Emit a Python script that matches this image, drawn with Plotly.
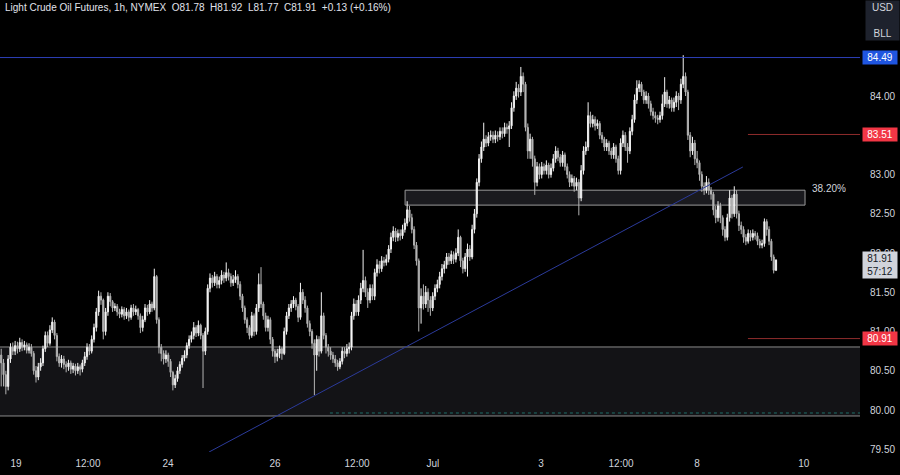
import plotly.graph_objects as go

# ---------------- data ----------------
first_open = 80.70
closes = [
    80.60, 80.45, 80.30, 80.65, 80.80, 80.75, 80.82, 80.78, 80.86, 80.80,
    80.83, 80.76, 80.80, 80.72, 80.50, 80.42, 80.55, 80.60, 80.78, 80.95,
    80.85, 81.02, 81.12, 80.95, 80.68, 80.60, 80.65, 80.58, 80.55, 80.60,
    80.52, 80.56, 80.50, 80.55, 80.52, 80.60, 80.68, 80.80, 80.75, 80.90,
    81.05, 81.25, 81.45, 81.40, 81.00, 81.25, 81.45, 81.38, 81.30, 81.32,
    81.25, 81.22, 81.28, 81.20, 81.25, 81.18, 81.30, 81.25, 81.28, 81.20,
    81.05, 81.15, 81.30, 81.25, 81.35, 81.30, 81.70, 81.15, 80.80, 80.72,
    80.65, 80.70, 80.62, 80.48, 80.32, 80.40, 80.50, 80.58, 80.66, 80.70,
    80.82, 80.90, 80.95, 81.05, 80.98, 81.08, 80.95, 80.75, 81.00, 81.55,
    81.68, 81.62, 81.70, 81.60, 81.65, 81.72, 81.68, 81.75, 81.70, 81.62,
    81.66, 81.70, 81.60, 81.45, 81.30, 81.15, 81.05, 80.95, 81.20, 81.00,
    81.30, 81.60, 81.35, 81.20, 81.05, 81.15, 80.90, 80.75, 80.68, 80.72,
    80.78, 80.72, 81.00, 81.20, 81.30, 81.35, 81.40, 81.32, 81.18, 81.50,
    81.40, 81.30, 81.10, 81.00, 80.85, 80.70, 80.90, 80.75, 81.20, 80.95,
    80.80, 80.75, 80.70, 80.65, 80.60, 80.55, 80.62, 80.75, 80.72, 80.78,
    80.80, 81.20, 81.35, 81.25, 81.40, 81.55, 81.65, 81.50, 81.40, 81.55,
    81.45, 81.75, 81.85, 81.80, 81.90, 81.88, 81.92, 82.05, 82.20, 82.28,
    82.20, 82.25, 82.22, 82.30, 82.38, 82.55, 82.45, 82.30, 82.10, 81.90,
    81.30, 81.45, 81.35, 81.50, 81.40, 81.30, 81.45, 81.55, 81.60, 81.70,
    81.80, 81.85, 81.95, 81.90, 81.98, 81.92, 82.00, 82.20, 81.90, 81.80,
    81.95, 82.05, 81.95, 82.30, 82.50, 82.90, 83.20, 83.35, 83.45, 83.40,
    83.48, 83.50, 83.45, 83.50, 83.48, 83.55, 83.52, 83.60, 83.58, 83.62,
    83.85, 84.00, 84.10, 84.05, 84.25, 84.15, 83.60, 83.30, 83.45, 83.20,
    82.90, 83.10, 83.00, 83.10, 83.05, 83.12, 83.00, 83.08, 83.20, 83.30,
    83.22, 83.15, 83.25, 83.10, 83.00, 82.90, 82.95, 82.85, 82.90, 82.70,
    83.05, 83.30, 83.35, 83.75, 83.65, 83.70, 83.62, 83.65, 83.50, 83.45,
    83.35, 83.40, 83.30, 83.25, 83.35, 83.20, 83.05, 83.40, 83.50, 83.35,
    83.30, 83.55, 83.70, 83.95, 84.10, 84.15, 84.05, 83.95, 84.00, 83.90,
    83.80, 83.75, 83.72, 83.70, 83.75, 83.90, 84.05, 83.90, 83.95, 83.85,
    83.92, 84.00, 83.95, 84.15, 84.25, 84.05, 83.50, 83.30, 83.40, 83.20,
    83.15, 83.00, 82.85, 82.80, 82.90, 82.80, 82.75, 82.55, 82.45, 82.60,
    82.45, 82.30, 82.20, 82.45, 82.70, 82.50, 82.75, 82.50, 82.35, 82.30,
    82.20, 82.15, 82.25, 82.20, 82.25, 82.22, 82.15, 82.10, 82.12, 82.40,
    82.30, 82.15, 81.95, 81.78, 81.91,
]
highs = [
    80.78, 80.65, 80.50, 80.70, 80.85, 80.86, 80.88, 80.87, 80.92, 80.90,
    80.88, 80.86, 80.85, 80.84, 80.75, 80.56, 80.60, 80.66, 80.82, 81.00,
    81.00, 81.08, 81.18, 81.15, 80.98, 80.72, 80.70, 80.69, 80.62, 80.64,
    80.63, 80.60, 80.59, 80.60, 80.58, 80.64, 80.74, 80.85, 80.84, 80.95,
    81.10, 81.30, 81.52, 81.50, 81.42, 81.30, 81.50, 81.49, 81.40, 81.36,
    81.35, 81.29, 81.32, 81.31, 81.30, 81.28, 81.34, 81.35, 81.33, 81.30,
    81.23, 81.20, 81.35, 81.34, 81.40, 81.38, 81.80, 81.72, 81.18, 80.84,
    80.76, 80.76, 80.73, 80.65, 80.50, 80.45, 80.55, 80.62, 80.70, 80.76,
    80.86, 80.95, 81.00, 81.12, 81.08, 81.14, 81.10, 80.98, 81.05, 81.60,
    81.74, 81.72, 81.76, 81.73, 81.70, 81.78, 81.76, 81.88, 81.80, 81.74,
    81.72, 81.78, 81.73, 81.64, 81.48, 81.33, 81.18, 81.08, 81.25, 81.23,
    81.35, 81.74, 81.82, 81.38, 81.24, 81.20, 81.18, 80.93, 80.78, 80.78,
    80.82, 80.80, 81.05, 81.25, 81.35, 81.40, 81.45, 81.43, 81.35, 81.62,
    81.54, 81.45, 81.33, 81.14, 81.03, 80.90, 80.95, 80.94, 81.50, 81.24,
    80.98, 80.84, 80.80, 80.74, 80.70, 80.64, 80.66, 80.80, 80.80, 80.84,
    80.86, 81.25, 81.42, 81.40, 81.46, 81.62, 82.04, 81.70, 81.55, 81.60,
    81.60, 81.80, 81.92, 81.90, 81.96, 81.95, 81.98, 82.10, 82.26, 82.34,
    82.32, 82.30, 82.30, 82.36, 82.44, 82.66, 82.60, 82.50, 82.34, 82.14,
    81.93, 81.55, 81.60, 81.58, 81.55, 81.45, 81.50, 81.60, 81.66, 81.76,
    81.86, 81.90, 82.00, 82.00, 82.03, 82.02, 82.06, 82.30, 82.22, 81.94,
    82.00, 82.12, 82.10, 82.36, 82.56, 82.95, 83.26, 83.42, 83.66, 83.50,
    83.54, 83.56, 83.55, 83.56, 83.55, 83.60, 83.60, 83.66, 83.65, 83.68,
    83.92, 84.06, 84.18, 84.15, 84.37, 84.30, 84.18, 83.65, 83.52, 83.48,
    83.24, 83.16, 83.14, 83.16, 83.14, 83.18, 83.15, 83.14, 83.26, 83.36,
    83.34, 83.26, 83.30, 83.28, 83.14, 83.04, 83.00, 82.98, 82.96, 82.94,
    83.12, 83.36, 83.42, 83.92, 83.80, 83.76, 83.74, 83.70, 83.68, 83.54,
    83.48, 83.45, 83.43, 83.34, 83.40, 83.38, 83.24, 83.46, 83.56, 83.54,
    83.40, 83.60, 83.76, 84.02, 84.20, 84.20, 84.18, 84.08, 84.06, 84.04,
    83.94, 83.85, 83.80, 83.76, 83.80, 84.02, 84.24, 84.08, 84.00, 83.98,
    83.98, 84.06, 84.04, 84.22, 84.52, 84.30, 84.08, 83.54, 83.48, 83.44,
    83.30, 83.18, 83.04, 82.90, 82.98, 82.95, 82.84, 82.78, 82.60, 82.66,
    82.64, 82.48, 82.34, 82.50, 82.80, 82.74, 82.85, 82.80, 82.54, 82.40,
    82.34, 82.24, 82.30, 82.29, 82.30, 82.28, 82.26, 82.18, 82.17, 82.44,
    82.43, 82.34, 82.18, 81.98, 81.92,
]
lows = [
    80.30, 80.30, 80.20, 80.25, 80.60, 80.70, 80.70, 80.72, 80.74, 80.75,
    80.76, 80.72, 80.72, 80.68, 80.45, 80.35, 80.38, 80.50, 80.56, 80.74,
    80.80, 80.82, 80.98, 80.90, 80.62, 80.55, 80.54, 80.52, 80.48, 80.50,
    80.46, 80.47, 80.44, 80.46, 80.44, 80.48, 80.56, 80.64, 80.70, 80.72,
    80.86, 81.00, 81.20, 81.34, 80.90, 80.95, 81.20, 81.32, 81.25, 81.26,
    81.20, 81.17, 81.18, 81.15, 81.16, 81.13, 81.15, 81.20, 81.21, 81.15,
    80.98, 81.00, 81.12, 81.20, 81.22, 81.25, 81.27, 81.10, 80.72, 80.62,
    80.58, 80.60, 80.55, 80.42, 80.25, 80.28, 80.36, 80.46, 80.54, 80.62,
    80.66, 80.78, 80.86, 80.90, 80.93, 80.94, 80.90, 80.28, 80.70, 80.96,
    81.50, 81.56, 81.58, 81.55, 81.55, 81.60, 81.62, 81.64, 81.65, 81.57,
    81.58, 81.62, 81.55, 81.40, 81.25, 81.10, 80.98, 80.90, 80.92, 80.94,
    80.96, 81.25, 81.30, 81.15, 81.00, 81.00, 80.84, 80.68, 80.60, 80.62,
    80.66, 80.64, 80.70, 80.96, 81.16, 81.25, 81.30, 81.27, 81.12, 81.15,
    81.35, 81.24, 81.05, 80.94, 80.78, 80.19, 80.50, 80.68, 80.72, 80.90,
    80.72, 80.68, 80.64, 80.60, 80.55, 80.50, 80.52, 80.58, 80.66, 80.68,
    80.72, 80.76, 81.15, 81.20, 81.20, 81.35, 81.50, 81.44, 81.30, 81.36,
    81.40, 81.40, 81.70, 81.74, 81.76, 81.83, 81.84, 81.88, 82.00, 82.15,
    82.14, 82.15, 82.16, 82.18, 82.26, 82.34, 82.40, 82.25, 82.05, 81.84,
    81.00, 81.10, 81.28, 81.30, 81.25, 81.20, 81.26, 81.40, 81.50, 81.55,
    81.65, 81.74, 81.80, 81.85, 81.86, 81.86, 81.88, 81.96, 81.82, 81.74,
    81.76, 81.70, 81.90, 81.92, 82.25, 82.45, 82.85, 83.15, 83.30, 83.35,
    83.36, 83.43, 83.40, 83.40, 83.42, 83.44, 83.46, 83.48, 83.52, 83.35,
    83.58, 83.80, 83.95, 83.98, 84.00, 84.05, 83.55, 83.20, 83.20, 83.10,
    82.74, 82.85, 82.94, 82.95, 83.00, 83.00, 82.95, 82.96, 83.04, 83.15,
    83.17, 83.10, 83.10, 83.05, 82.95, 82.84, 82.85, 82.78, 82.80, 82.48,
    82.66, 83.00, 83.25, 83.30, 83.60, 83.60, 83.56, 83.58, 83.45, 83.40,
    83.30, 83.30, 83.25, 83.20, 83.20, 83.15, 83.00, 83.00, 83.35, 83.30,
    83.15, 83.26, 83.50, 83.66, 83.90, 84.05, 84.00, 83.90, 83.90, 83.84,
    83.75, 83.70, 83.66, 83.64, 83.66, 83.70, 83.86, 83.85, 83.84, 83.80,
    83.80, 83.86, 83.82, 83.90, 84.10, 84.00, 83.44, 83.22, 83.25, 83.12,
    83.08, 82.92, 82.78, 82.74, 82.76, 82.74, 82.68, 82.48, 82.38, 82.40,
    82.38, 82.22, 82.15, 82.16, 82.40, 82.44, 82.46, 82.44, 82.28, 82.24,
    82.13, 82.10, 82.12, 82.15, 82.16, 82.17, 82.10, 82.06, 82.06, 82.08,
    82.22, 82.10, 81.90, 81.74, 81.77,
]
opens = [first_open] + closes[:-1]
bar_index = list(range(len(closes)))

x_tick_index = [6.4, 37.4, 71.9, 118.0, 153.4, 186.1, 232.7, 267.2, 299.9, 346.0]
x_tick_text = ["19", "12:00", "24", "26", "12:00", "Jul", "3", "12:00", "8", "10"]
y_tick_values = [79.5, 80.0, 80.5, 81.0, 81.5, 82.0, 82.5, 83.0, 84.0]

resistance_high = 84.49
target_levels = [83.51, 80.91]
last_price = 81.91
support_zone = [79.924, 80.803]
support_dotted = 79.962
fib_zone = [82.61, 82.80]
fib_zone_bars = [174.1, 346.5]
fib_label = "38.20%"
trend_bars = [89.6, 319.7]
trend_prices = [79.465, 83.096]
title_text = ("Light Crude Oil Futures, 1h, NYMEX&nbsp;&nbsp;O81.78&nbsp;&nbsp;H81.92&nbsp;&nbsp;"
              "L81.77&nbsp;&nbsp;C81.91&nbsp;&nbsp;+0.13 (+0.16%)")

FONT = "Liberation Sans, Arial, sans-serif"
TXT = "#d1d4dc"

fig = go.Figure()
fig.add_trace(go.Candlestick(
    x=bar_index, open=opens, high=highs, low=lows, close=closes,
    increasing=dict(line=dict(color="#f2f2f2", width=1), fillcolor="#ffffff"),
    decreasing=dict(line=dict(color="#b4b4b4", width=1), fillcolor="#b4b4b4"),
    whiskerwidth=0, hoverinfo="skip", showlegend=False,
))

shapes = []
# support zone (fill + borders)
shapes.append(dict(type="rect", xref="paper", yref="y", x0=0, x1=1,
                   y0=support_zone[0], y1=support_zone[1],
                   fillcolor="#131316", line=dict(width=0), layer="below"))
for yv in support_zone:
    shapes.append(dict(type="line", xref="paper", yref="y", x0=0, x1=1, y0=yv, y1=yv,
                       line=dict(color="#8a8a8a", width=1), layer="below"))
shapes.append(dict(type="line", xref="x", yref="y", x0=141.7, x1=371, y0=support_dotted,
                   y1=support_dotted, line=dict(color="#1f6f6a", width=1, dash="dot"), layer="below"))
# fib zone
shapes.append(dict(type="rect", xref="x", yref="y", x0=fib_zone_bars[0], x1=fib_zone_bars[1],
                   y0=fib_zone[0], y1=fib_zone[1], fillcolor="#1a1a1e",
                   line=dict(color="#9a9a9a", width=1), layer="below"))
# horizontal levels
shapes.append(dict(type="line", xref="paper", yref="y", x0=0, x1=1, y0=resistance_high,
                   y1=resistance_high, line=dict(color="#2d3fb8", width=1)))
for lv in target_levels:
    shapes.append(dict(type="line", xref="x", yref="y", x0=321.9, x1=371, y0=lv, y1=lv,
                       line=dict(color="#8e2c2c", width=1)))
# trendline
shapes.append(dict(type="line", xref="x", yref="y", x0=trend_bars[0], x1=trend_bars[1],
                   y0=trend_prices[0], y1=trend_prices[1], line=dict(color="#2b3a9a", width=1)))

annotations = []
annotations.append(dict(xref="paper", yref="paper", x=0, y=1, xanchor="left", yanchor="top",
                        xshift=3, yshift=0, text=title_text, showarrow=False,
                        font=dict(family=FONT, size=10, color="#e0e3eb")))


def price_box(price, bg, fg, text=None):
    return dict(xref="paper", yref="y", x=1, y=price, xanchor="left", yanchor="middle",
                xshift=2, text=text or f"{price:.2f}", showarrow=False, bgcolor=bg,
                width=32, align="center", borderpad=1,
                font=dict(family=FONT, size=10, color=fg))


annotations.append(price_box(resistance_high, "#1f55e0", "#ffffff"))
for lv in target_levels:
    annotations.append(price_box(lv, "#f23645", "#ffffff"))
annotations.append(dict(xref="paper", yref="y", x=1, y=81.85, xanchor="left", yanchor="middle",
                        xshift=2, text=f"{last_price:.2f}<br>57:12", showarrow=False,
                        bgcolor="#d1d4dc", width=32, align="center", borderpad=1,
                        font=dict(family=FONT, size=10, color="#131722")))
annotations.append(dict(xref="x", yref="y", x=348.5, y=82.82, xanchor="left", yanchor="middle",
                        text=fib_label, showarrow=False,
                        font=dict(family=FONT, size=10, color=TXT)))
annotations.append(dict(xref="paper", yref="paper", x=1, y=1, xanchor="left", yanchor="top",
                        xshift=5, text="USD<br><br>BLL", showarrow=False, bgcolor="#1e222d",
                        width=31, height=37, align="center",
                        font=dict(family=FONT, size=10, color=TXT)))

fig.update_layout(
    width=900, height=475,
    margin=dict(l=0, r=40, t=0, b=23, autoexpand=False),
    paper_bgcolor="#000000", plot_bgcolor="#000000",
    shapes=shapes, annotations=annotations,
    showlegend=False,
    xaxis=dict(range=[-0.52, 370.2], tickvals=x_tick_index, ticktext=x_tick_text,
               showgrid=False, zeroline=False, showline=False, ticks="",
               automargin=False, ticklabelstandoff=4,
               tickfont=dict(family=FONT, size=10, color=TXT),
               rangeslider=dict(visible=False), fixedrange=True),
    yaxis=dict(side="right", range=[79.465, 85.223], tickvals=y_tick_values,
               ticktext=[f"{v:.2f}" for v in y_tick_values],
               showgrid=False, zeroline=False, showline=False, ticks="",
               automargin=False, ticklabelstandoff=9,
               tickfont=dict(family=FONT, size=10, color=TXT), fixedrange=True),
)

fig.write_html(
    "out.html",
    config={"displayModeBar": False},
    post_script="document.body.style.margin='0';document.body.style.background='#000';"
                "document.documentElement.style.overflow='hidden';",
)
